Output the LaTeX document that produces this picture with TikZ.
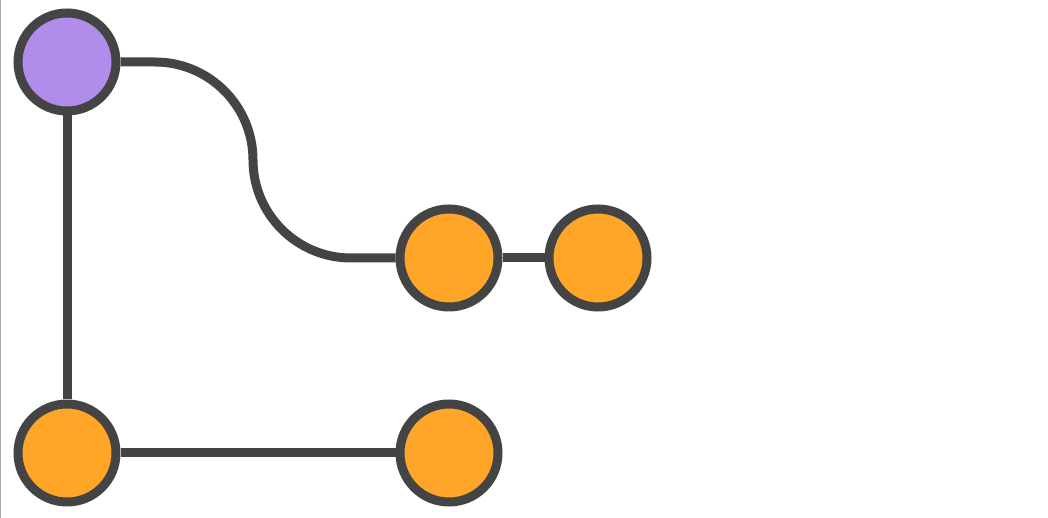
\documentclass[tikz,border=0pt]{standalone}
\usetikzlibrary{backgrounds}
\definecolor{stroke}{HTML}{444444}
\definecolor{purplefill}{HTML}{B08CEB}
\definecolor{orangefill}{HTML}{FFA629}
\begin{document}
\begin{tikzpicture}[x=1pt,y=1pt,
  commit/.style={circle,draw=stroke,line width=9pt,minimum size=98pt,inner sep=0pt},
  link/.style={draw=stroke,line width=9pt}]
\useasboundingbox (0,0) rectangle (1048,518);
\draw[color={rgb,255:red,170;green,170;blue,170},line width=1pt] (0.5,0) -- (0.5,518);
\node[commit,fill=purplefill] (p) at (67,456) {};
\node[commit,fill=orangefill] (o1) at (449,260) {};
\node[commit,fill=orangefill] (o2) at (598,260) {};
\node[commit,fill=orangefill] (b1) at (67,65) {};
\node[commit,fill=orangefill] (b2) at (449,65) {};
\coordinate (c1) at (155,456);
\coordinate (c2) at (351,260);
\begin{scope}[on background layer]
\draw[link] (p) -- (b1);
\draw[link] (b1) -- (b2);
\draw[link] (o1) -- (o2);
\draw[link] (p) -- (c1) arc[start angle=90,end angle=0,radius=98] arc[start angle=180,end angle=270,radius=98] -- (c2) -- (o1);
\end{scope}
\end{tikzpicture}
\end{document}
